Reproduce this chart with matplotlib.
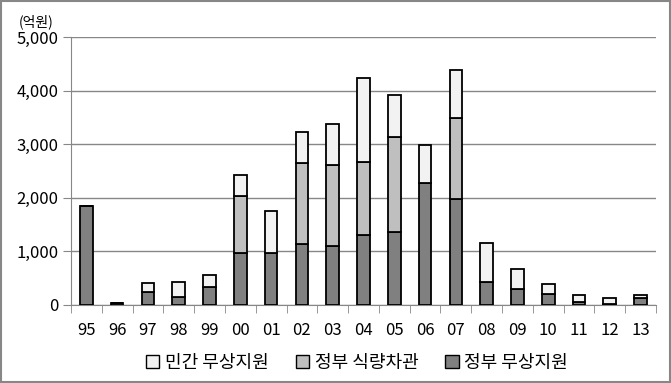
import numpy as np
import matplotlib
matplotlib.use('Agg')
import matplotlib.pyplot as plt
from matplotlib.patches import Patch

plt.rcParams['font.family'] = ['Noto Sans CJK KR', 'DejaVu Sans']

# 연도별 대북 지원 (억원)
years = ['95', '96', '97', '98', '99', '00', '01', '02', '03', '04',
         '05', '06', '07', '08', '09', '10', '11', '12', '13']
gov_free = [1850, 30, 237, 143, 330, 964, 964, 1132, 1095, 1300,
            1356, 2270, 1972, 423, 298, 205, 50, 10, 130]
gov_loan = [0, 0, 0, 0, 0, 1064, 0, 1511, 1511, 1362,
            1773, 0, 1517, 0, 0, 0, 0, 0, 0]
private_free = [0, 0, 168, 280, 224, 392, 784, 579, 765, 1567,
                783, 710, 890, 734, 374, 181, 131, 120, 51]

x = np.arange(len(years))
gov_free = np.array(gov_free)
gov_loan = np.array(gov_loan)
private_free = np.array(private_free)

fig = plt.figure(figsize=(6.71, 3.83), dpi=100)
ax = fig.add_axes([0.1058, 0.2037, 0.8718, 0.6997])

w = 0.41
ax.bar(x, gov_free, w, color='#808080', edgecolor='black', linewidth=1.3, zorder=3)
ax.bar(x, gov_loan, w, bottom=gov_free, color='#BFBFBF', edgecolor='black',
       linewidth=1.3, zorder=3)
priv_mask = private_free > 0
ax.bar(x[priv_mask], private_free[priv_mask], w, bottom=(gov_free + gov_loan)[priv_mask],
       color='#F2F2F2', edgecolor='black', linewidth=1.3, zorder=3)

ax.set_xlim(-0.5, len(years) - 0.5)
ax.set_ylim(0, 5000)
ax.set_yticks(np.arange(0, 5001, 1000))
ax.set_yticklabels([f'{v:,}' for v in range(0, 5001, 1000)], fontsize=12)
ax.grid(axis='y', color='#878787', linewidth=1, zorder=0)

ax.set_xticks(x)
ax.set_xticklabels(years, fontsize=12)
ax.set_xticks(np.arange(-0.5, len(years)), minor=True)
ax.tick_params(axis='x', which='major', length=0, pad=12)
ax.tick_params(axis='x', which='minor', length=6, color='#878787', direction='out')
ax.tick_params(axis='y', length=6, color='#878787', pad=3)

for s in ['top', 'right']:
    ax.spines[s].set_visible(False)
for s in ['left', 'bottom']:
    ax.spines[s].set_color('#878787')

fig.text(0.028, 0.943, '(억원)', fontsize=10, ha='left', va='center')

handles = [Patch(facecolor='#F2F2F2', edgecolor='black', label='민간 무상지원'),
           Patch(facecolor='#BFBFBF', edgecolor='black', label='정부 식량차관'),
           Patch(facecolor='#808080', edgecolor='black', label='정부 무상지원')]
fig.legend(handles=handles, loc='center', bbox_to_anchor=(0.532, 0.052), ncol=3,
           frameon=False, fontsize=13, handlelength=0.75, handleheight=0.75,
           handletextpad=0.3, columnspacing=1.5)

fig.patches.append(plt.Rectangle((0.0015, 0.0026), 0.997, 0.995, transform=fig.transFigure,
                                 fill=False, edgecolor='#878787', linewidth=1.5))

fig.savefig('out.png', dpi=100)
